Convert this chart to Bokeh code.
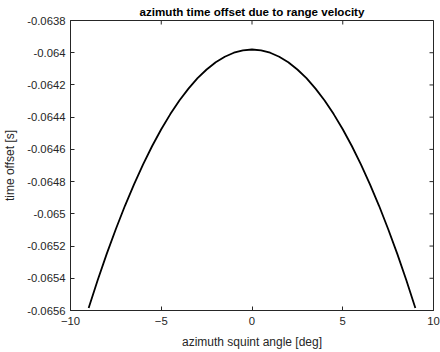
import math
from bokeh.plotting import figure
from bokeh.models import Range1d, FixedTicker
from bokeh.embed import file_html
from bokeh.resources import INLINE

# data
angle_deg = [-9.0, -8.5, -8.0, -7.5, -7.0, -6.5, -6.0, -5.5, -5.0, -4.5, -4.0, -3.5, -3.0,
             -2.5, -2.0, -1.5, -1.0, -0.5, 0.0, 0.5, 1.0, 1.5, 2.0, 2.5, 3.0, 3.5, 4.0,
             4.5, 5.0, 5.5, 6.0, 6.5, 7.0, 7.5, 8.0, 8.5, 9.0]
time_offset = [-0.065584, -0.065411, -0.065247, -0.065094, -0.064950, -0.064817, -0.064693,
               -0.064579, -0.064475, -0.064381, -0.064297, -0.064223, -0.064158, -0.064104,
               -0.064059, -0.064025, -0.064000, -0.063985, -0.063980, -0.063985, -0.064000,
               -0.064025, -0.064059, -0.064104, -0.064158, -0.064223, -0.064297, -0.064381,
               -0.064475, -0.064579, -0.064693, -0.064817, -0.064950, -0.065094, -0.065247,
               -0.065411, -0.065584]
x_ticks = [-10, -5, 0, 5, 10]
y_ticks = [-0.0656, -0.0654, -0.0652, -0.065, -0.0648, -0.0646, -0.0644, -0.0642, -0.064, -0.0638]
y_tick_labels = ["-0.0656", "-0.0654", "-0.0652", "-0.065", "-0.0648", "-0.0646", "-0.0644",
                 "-0.0642", "-0.064", "-0.0638"]
x_min, x_max = -10, 10
y_min, y_max = -0.0656, -0.0638

FONT = "Liberation Sans"
DARK = "#262626"

p = figure(width=440, height=352, output_backend="svg", toolbar_location=None,
           x_range=Range1d(x_min, x_max), y_range=Range1d(y_min, y_max),
           min_border_left=66, min_border_right=7, min_border_top=20, min_border_bottom=42)
p.title.text = "azimuth time offset due to range velocity"
p.title.text_font = FONT
p.title.text_font_size = "11.6px"
p.title.text_font_style = "bold"
p.title.align = "center"
p.title.text_color = "#000000"
p.title.standoff = 5

p.xgrid.visible = False
p.ygrid.visible = False
p.outline_line_color = DARK
p.outline_line_width = 1
p.background_fill_color = "white"
p.border_fill_color = "white"

p.line(angle_deg, time_offset, line_color="black", line_width=1.8)

# inward ticks on the top and right edges (mirror of bottom/left axes)
p.scatter(x_ticks, [y_max] * len(x_ticks), marker="dash", size=8, angle=math.pi / 2,
          line_color=DARK, line_width=1)
p.scatter([x_max] * len(y_ticks), y_ticks, marker="dash", size=8,
          line_color=DARK, line_width=1)

for ax in (p.xaxis[0], p.yaxis[0]):
    ax.axis_line_color = DARK
    ax.major_tick_line_color = DARK
    ax.major_tick_in = 4
    ax.major_tick_out = 0
    ax.minor_tick_line_color = None
    ax.major_label_text_font = FONT
    ax.major_label_text_font_size = "11.3px"
    ax.major_label_text_color = DARK
    ax.axis_label_text_font = FONT
    ax.axis_label_text_font_size = "12px"
    ax.axis_label_text_font_style = "normal"
    ax.axis_label_text_color = DARK

xa = p.xaxis[0]
ya = p.yaxis[0]
xa.ticker = FixedTicker(ticks=x_ticks)
ya.ticker = FixedTicker(ticks=y_ticks)
ya.major_label_overrides = {t: l for t, l in zip(y_ticks, y_tick_labels)}
xa.axis_label = "azimuth squint angle [deg]"
ya.axis_label = "time offset [s]"
xa.major_label_standoff = 6
xa.axis_label_standoff = 7
ya.major_label_standoff = 5
ya.axis_label_standoff = 7

open("out.html", "w").write(file_html(p, INLINE))
